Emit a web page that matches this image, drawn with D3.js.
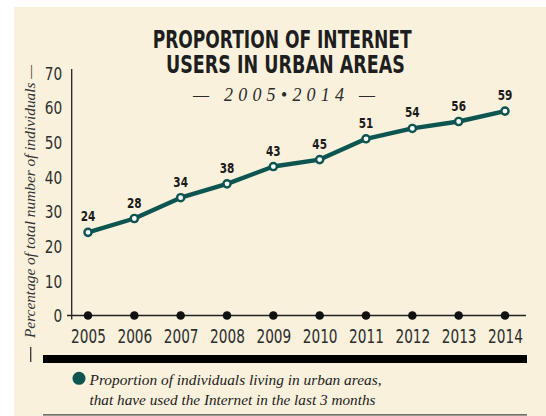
<!DOCTYPE html>
<html>
<head>
<meta charset="utf-8">
<script src="https://cdn.jsdelivr.net/npm/d3@7"></script>
<style>
  html, body { margin: 0; padding: 0; background: #ffffff; }
  svg { display: block; }
  .cond { font-family: "Liberation Sans Narrow", "DejaVu Sans Condensed", "Roboto Condensed", Roboto, sans-serif; font-stretch: condensed; }
  .serif-it { font-family: "Liberation Serif", "DejaVu Serif", serif; font-style: italic; }
</style>
</head>
<body>
<svg id="chart" width="546" height="416"></svg>
<script>
// Share of urban residents who used the Internet in the last 3 months (%)
const years = ["2005", "2006", "2007", "2008", "2009", "2010", "2011", "2012", "2013", "2014"];
const shares = [24, 28, 34, 38, 43, 45, 51, 54, 56, 59];
const yTicks = [0, 10, 20, 30, 40, 50, 60, 70];

const titleLines = ["PROPORTION OF INTERNET", "USERS IN URBAN AREAS"];
const subtitle = "— 2005•2014 —";
const yLabel = "Percentage of total number of individuals —";
const legendLines = [
  "Proportion of individuals living in urban areas,",
  "that have used the Internet in the last 3 months"
];

const teal = "#0c5550";
const ink = "#1e1e1e";

// condensed digits: fixed advance per character
const digitW = 8.7;

const svg = d3.select("#chart");

// beige panel
svg.append("rect")
  .attr("x", 14).attr("y", 7)
  .attr("width", 532).attr("height", 409)
  .attr("fill", "#faf1dc");

// title block
const titleX = [152.7, 166];
const titleW = [259, 239];
const titleY = [48.3, 72.7];
titleLines.forEach((t, i) => {
  svg.append("text")
    .attr("class", "cond")
    .attr("x", titleX[i]).attr("y", titleY[i])
    .attr("textLength", titleW[i])
    .attr("lengthAdjust", "spacingAndGlyphs")
    .attr("font-size", 24)
    .attr("font-weight", "bold")
    .attr("fill", ink)
    .text(t);
});
svg.append("text")
  .attr("class", "serif-it")
  .attr("x", 193).attr("y", 100.7)
  .attr("textLength", 182)
  .attr("lengthAdjust", "spacing")
  .attr("font-size", 18)
  .attr("fill", "#2a2a2a")
  .text(subtitle);

// scales
const x = d3.scalePoint().domain(years).range([88, 505]);
const y = d3.scaleLinear().domain([0, 70]).range([315.5, 73]);

// y axis labels
const yAxis = svg.append("g")
  .attr("transform", "translate(71.7,0)")
  .call(d3.axisLeft(y).tickValues(yTicks).tickSize(0).tickPadding(9.5));
yAxis.select(".domain").remove();
yAxis.selectAll("text")
  .attr("class", "cond")
  .attr("font-size", 17.5)
  .attr("fill", "#2e2e2e")
  .attr("dy", null)
  .attr("y", 6.3)
  .attr("textLength", d => String(d).length * digitW)
  .attr("lengthAdjust", "spacingAndGlyphs");

// x axis labels
const xAxis = svg.append("g")
  .attr("transform", "translate(0,315.5)")
  .call(d3.axisBottom(x).tickSize(0));
xAxis.select(".domain").remove();
xAxis.selectAll("text")
  .attr("class", "cond")
  .attr("font-size", 19)
  .attr("fill", "#2e2e2e")
  .attr("dy", null)
  .attr("y", 27)
  .attr("textLength", d => d.length * digitW)
  .attr("lengthAdjust", "spacingAndGlyphs");

// axis lines
svg.append("line")
  .attr("x1", 71.7).attr("x2", 71.7)
  .attr("y1", 69).attr("y2", 319.5)
  .attr("stroke", "#222").attr("stroke-width", 1.3);
svg.append("line")
  .attr("x1", 67).attr("x2", 526)
  .attr("y1", y(0)).attr("y2", y(0))
  .attr("stroke", "#222").attr("stroke-width", 1.3);

// year markers on the baseline
svg.append("g").selectAll("circle")
  .data(years)
  .join("circle")
  .attr("cx", d => x(d))
  .attr("cy", y(0))
  .attr("r", 4.3)
  .attr("fill", "#111");

// rotated y-axis title, with a short rule below it
const yl = svg.append("g").attr("transform", "translate(35,201.5) rotate(-90)");
yl.append("text")
  .attr("class", "serif-it")
  .attr("text-anchor", "middle")
  .attr("textLength", 273)
  .attr("lengthAdjust", "spacingAndGlyphs")
  .attr("font-size", 15)
  .attr("fill", "#333")
  .text(yLabel);
svg.append("line")
  .attr("x1", 30.7).attr("x2", 30.7)
  .attr("y1", 347).attr("y2", 362)
  .attr("stroke", "#333").attr("stroke-width", 1.3);

// series line
const pts = years.map((yr, i) => ({ year: yr, value: shares[i] }));
svg.append("path")
  .datum(pts)
  .attr("fill", "none")
  .attr("stroke", teal)
  .attr("stroke-width", 4.4)
  .attr("stroke-linejoin", "round")
  .attr("d", d3.line().x(d => x(d.year)).y(d => y(d.value)));

svg.append("g").selectAll("circle")
  .data(pts)
  .join("circle")
  .attr("cx", d => x(d.year))
  .attr("cy", d => y(d.value))
  .attr("r", 3.6)
  .attr("fill", "#ffffff")
  .attr("stroke", teal)
  .attr("stroke-width", 2.4);

svg.append("g").selectAll("text")
  .data(pts)
  .join("text")
  .attr("class", "cond")
  .attr("x", d => x(d.year))
  .attr("y", d => y(d.value) - 11)
  .attr("text-anchor", "middle")
  .attr("font-size", 14.5)
  .attr("font-weight", "bold")
  .attr("fill", "#1a1a1a")
  .attr("textLength", d => String(d.value).length * 7.3)
  .attr("lengthAdjust", "spacingAndGlyphs")
  .text(d => d.value);

// thick rule under the axis
svg.append("rect")
  .attr("x", 43).attr("y", 355)
  .attr("width", 484).attr("height", 8)
  .attr("fill", "#000");

// legend
svg.append("circle")
  .attr("cx", 79).attr("cy", 378.3).attr("r", 6.5)
  .attr("fill", teal);
const legendY = [385, 405];
const legendW = [292, 286];
legendLines.forEach((t, i) => {
  svg.append("text")
    .attr("class", "serif-it")
    .attr("x", 89.5).attr("y", legendY[i])
    .attr("textLength", legendW[i])
    .attr("lengthAdjust", "spacingAndGlyphs")
    .attr("font-size", 15)
    .attr("fill", "#222")
    .text(t);
});

// bottom hairline
svg.append("line")
  .attr("x1", 43).attr("x2", 527)
  .attr("y1", 414.8).attr("y2", 414.8)
  .attr("stroke", "#444").attr("stroke-width", 1.3);
</script>
</body>
</html>
